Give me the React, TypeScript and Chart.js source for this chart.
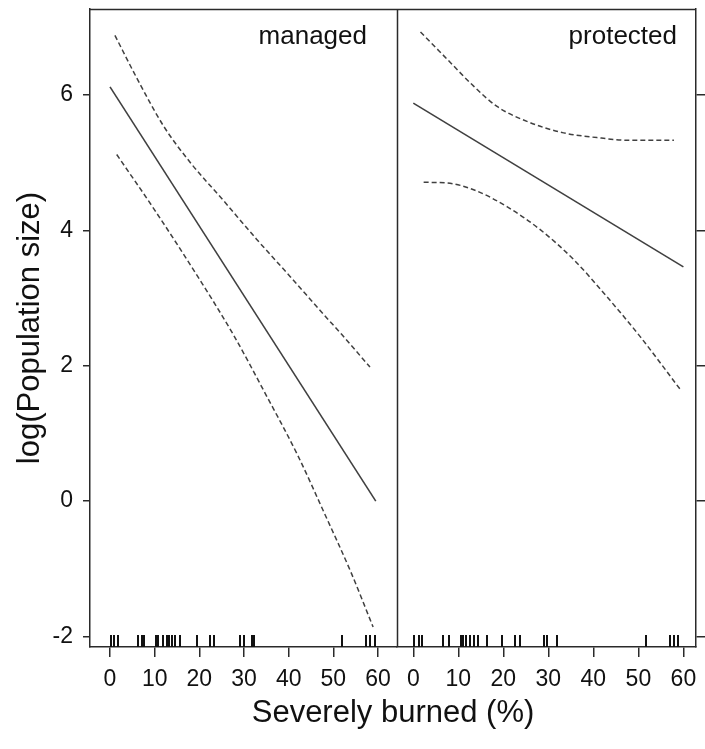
import React, { useEffect, useRef } from "react";
import { Chart, registerables } from "chart.js";

Chart.register(...registerables);

// ---------- data ----------
const xTicks = [0, 10, 20, 30, 40, 50, 60];
const yTicks = [-2, 0, 2, 4, 6];
const panelNames = ["managed", "protected"];
const xTitle = "Severely burned (%)";
const yTitle = "log(Population size)";

// managed panel
const managedFitX = [0, 59.5];
const managedFitY = [6.12, 0.0];
const managedUpperX = [1.1, 6, 12, 18, 25.4, 32.8, 40.3, 47.8, 51.9, 58.2];
const managedUpperY = [6.88, 6.25, 5.54, 5.0, 4.44, 3.87, 3.32, 2.76, 2.46, 1.98];
const managedLowerX = [1.5, 10, 20, 27.6, 35, 42, 48, 54, 58.9];
const managedLowerY = [5.12, 4.3, 3.28, 2.46, 1.56, 0.68, -0.18, -1.06, -1.86];
const managedRug = [0.2, 1.0, 1.8, 6.3, 7.2, 7.7, 10.2, 10.8, 11.9, 12.7, 13.3, 13.9, 14.5, 15.7, 19.4, 22.3, 23.2, 29.2, 30.1, 31.8, 32.2, 51.9, 57.3, 58.3, 59.3];

// protected panel
const protectedFitX = [0, 60];
const protectedFitY = [5.88, 3.46];
const protectedUpperX = [1.6, 7.5, 13.4, 18.6, 26.0, 33.4, 40.8, 48.2, 57.9];
const protectedUpperY = [6.93, 6.53, 6.13, 5.83, 5.59, 5.44, 5.37, 5.33, 5.33];
const protectedLowerX = [2.3, 7.5, 13.4, 20.8, 28.2, 35.6, 43.0, 50.4, 59.3];
const protectedLowerY = [4.71, 4.7, 4.6, 4.35, 4.01, 3.57, 3.02, 2.43, 1.65];
const protectedRug = [0.2, 1.2, 1.9, 6.7, 7.9, 10.5, 11.0, 11.8, 12.5, 13.4, 14.3, 16.4, 19.8, 22.6, 23.6, 29.0, 29.7, 31.9, 51.8, 57.0, 57.9, 58.8];

// ---------- style ----------
const FONT = "'Liberation Sans', Arial, Helvetica, sans-serif";
const AXIS = "#2a2a2a";
const LINE = "#404040";
const TEXT = "#111111";

const pts = (xs: number[], ys: number[]) => xs.map((x, i) => ({ x, y: ys[i] }));

const solid = (xs: number[], ys: number[], xAxisID: string) => ({
  data: pts(xs, ys),
  xAxisID,
  yAxisID: "y",
  showLine: true,
  borderColor: LINE,
  borderWidth: 1.6,
  pointRadius: 0,
  fill: false,
});
const dashed = (xs: number[], ys: number[], xAxisID: string) => ({
  data: pts(xs, ys),
  xAxisID,
  yAxisID: "y",
  showLine: true,
  borderColor: LINE,
  borderWidth: 1.5,
  borderDash: [5, 3],
  cubicInterpolationMode: "monotone",
  pointRadius: 0,
  fill: false,
});

const noPad = (s: any) => {
  s.paddingTop = 0;
  s.paddingBottom = 0;
  s.paddingLeft = 0;
  s.paddingRight = 0;
};

const panelPlugin = {
  id: "panels",
  afterDatasetsDraw(chart: any) {
    const ctx = chart.ctx;
    const { top, bottom } = chart.chartArea;
    const x1 = chart.scales.x1;
    const x2 = chart.scales.x2;
    ctx.save();
    ctx.strokeStyle = AXIS;
    ctx.lineWidth = 1.5;
    ctx.beginPath();
    ctx.moveTo(x1.left, top + 0.5);
    ctx.lineTo(x2.right, top + 0.5);
    ctx.moveTo(Math.round(x1.right) + 0.5, top);
    ctx.lineTo(Math.round(x1.right) + 0.5, bottom);
    ctx.stroke();
    // rugs
    ctx.lineWidth = 2;
    ctx.strokeStyle = "#111";
    const rugs: [any, number[]][] = [
      [x1, managedRug],
      [x2, protectedRug],
    ];
    for (const [scale, vals] of rugs) {
      for (const v of vals) {
        const px = Math.round(scale.getPixelForValue(v));
        ctx.beginPath();
        ctx.moveTo(px, bottom);
        ctx.lineTo(px, bottom - 12);
        ctx.stroke();
      }
    }
    // strip labels
    ctx.font = `26px ${FONT}`;
    ctx.fillStyle = TEXT;
    ctx.textAlign = "right";
    ctx.textBaseline = "alphabetic";
    ctx.fillText(panelNames[0], x1.right - 30, top + 35);
    ctx.fillText(panelNames[1], x2.right - 19, top + 35);
    ctx.restore();
  },
};

export default function App() {
  const ref = useRef<HTMLCanvasElement | null>(null);
  useEffect(() => {
    if (!ref.current) return;
    const xAxis = (min: number, max: number, weight: number) => ({
      type: "linear",
      position: "bottom",
      stack: "xs",
      stackWeight: weight,
      min,
      max,
      afterBuildTicks: (s: any) => {
        s.ticks = xTicks.map((v) => ({ value: v }));
      },
      afterFit: (s: any) => {
        s.height = 48;
        noPad(s);
      },
      grid: {
        drawOnChartArea: false,
        drawTicks: true,
        tickLength: 10,
        color: AXIS,
        lineWidth: 1.5,
      },
      border: { display: true, color: AXIS, width: 1.5 },
      ticks: {
        color: TEXT,
        font: { family: FONT, size: 23 },
        padding: 9,
        maxRotation: 0,
        autoSkip: false,
      },
    });
    const chart = new Chart(ref.current, {
      type: "scatter",
      data: {
        datasets: [
          solid(managedFitX, managedFitY, "x1"),
          dashed(managedUpperX, managedUpperY, "x1"),
          dashed(managedLowerX, managedLowerY, "x1"),
          solid(protectedFitX, protectedFitY, "x2"),
          dashed(protectedUpperX, protectedUpperY, "x2"),
          dashed(protectedLowerX, protectedLowerY, "x2"),
        ] as any,
      },
      options: {
        animation: false,
        responsive: false,
        events: [],
        layout: { padding: { top: 9, left: 0, right: 0, bottom: 0 } },
        plugins: {
          legend: { display: false },
          tooltip: { enabled: false },
          title: {
            display: true,
            text: xTitle,
            position: "bottom",
            fullSize: false,
            color: TEXT,
            font: { family: FONT, size: 31, weight: "normal" },
            padding: { top: 0, bottom: 16.8 },
          },
        },
        scales: {
          x1: xAxis(-4.48, 64.25, 307),
          x2: xAxis(-3.62, 62.8, 299),
          y: {
            type: "linear",
            position: "left",
            min: -2.155,
            max: 7.27,
            afterBuildTicks: (s: any) => {
              s.ticks = yTicks.map((v) => ({ value: v }));
            },
            afterFit: (s: any) => {
              s.width = 90;
              noPad(s);
            },
            grid: {
              drawOnChartArea: false,
              drawTicks: true,
              tickLength: 7,
              color: AXIS,
              lineWidth: 1.5,
            },
            border: { display: true, color: AXIS, width: 1.5 },
            ticks: {
              color: TEXT,
              font: { family: FONT, size: 23 },
              padding: 10,
            },
            title: {
              display: true,
              text: yTitle,
              color: TEXT,
              font: { family: FONT, size: 31 },
              padding: { top: 12, bottom: 0 },
            },
          },
          y2: {
            type: "linear",
            position: "right",
            min: -2.155,
            max: 7.27,
            afterBuildTicks: (s: any) => {
              s.ticks = yTicks.map((v) => ({ value: v }));
            },
            afterFit: (s: any) => {
              s.width = 9;
              noPad(s);
            },
            grid: {
              drawOnChartArea: false,
              drawTicks: true,
              tickLength: 9,
              color: AXIS,
              lineWidth: 1.5,
            },
            border: { display: true, color: AXIS, width: 1.5 },
            ticks: { display: false },
          },
        },
      } as any,
      plugins: [panelPlugin],
    });
    return () => chart.destroy();
  }, []);

  return (
    <div
      style={{
        position: "fixed",
        left: 0,
        top: 0,
        width: 705,
        height: 749,
        background: "#ffffff",
      }}
    >
      <canvas ref={ref} width={705} height={749} style={{ display: "block" }} />
    </div>
  );
}
